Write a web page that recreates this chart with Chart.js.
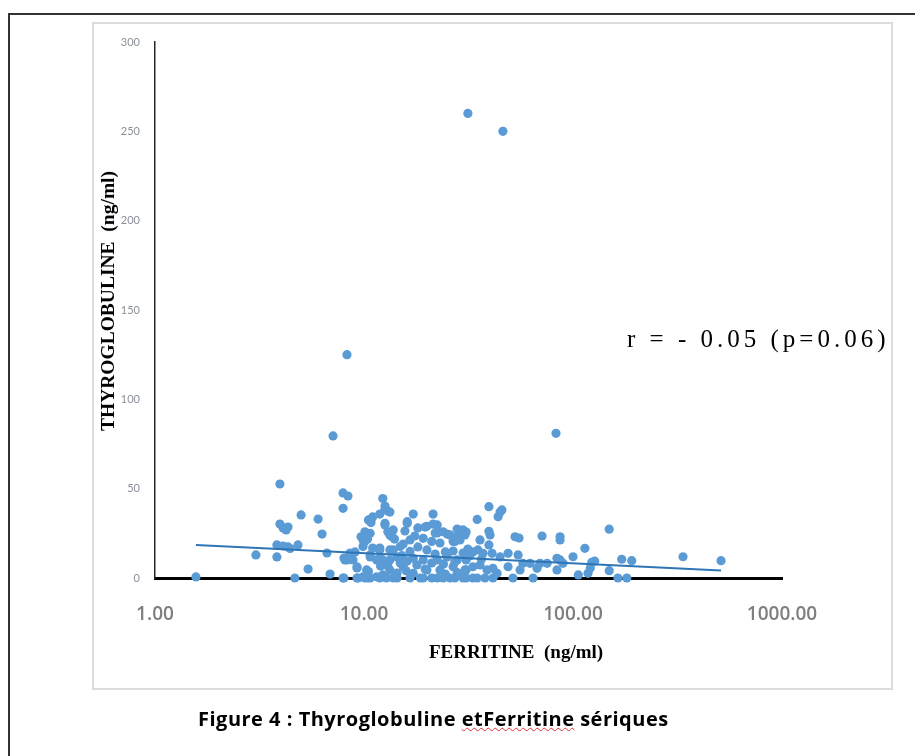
<!DOCTYPE html>
<html>
<head>
<meta charset="utf-8">
<script src="https://cdn.jsdelivr.net/npm/chart.js@4"></script>
<style>
body { margin:0; background:#fff; }
#page { position:relative; width:915px; height:756px; overflow:hidden; }
#frame { position:absolute; left:8px; top:13px; width:920px; height:760px; border-top:2px solid #333; border-left:2px solid #333; }
#box { position:absolute; left:92px; top:22px; width:797px; height:664px; border:2px solid #dcdcdc; }
#chart { position:absolute; left:0; top:0; }
.t { position:absolute; white-space:nowrap; color:#000; }
#ytitle { left:108px; top:301px; font:bold 19.5px "Liberation Serif"; transform:translate(-50%,-50%) rotate(-90deg); }
#xtitle { left:516px; top:652px; font:bold 19px "Liberation Serif"; transform:translate(-50%,-50%); }
#note { left:627px; top:339px; font:25px "Liberation Serif"; letter-spacing:4px; transform:translateY(-50%); }
#caption { left:198px; top:718px; font:bold 20px "Open Sans"; letter-spacing:0.5px; transform:translateY(-50%); }
#caption span { text-decoration:underline wavy #e03030; text-decoration-thickness:1px; }
</style>
</head>
<body>
<div id="page">
<div id="frame"></div>
<div id="box"></div>
<canvas id="chart" width="915" height="756"></canvas>
<div class="t" id="ytitle">THYROGLOBULINE&nbsp; (ng/ml)</div>
<div class="t" id="xtitle">FERRITINE&nbsp; (ng/ml)</div>
<div class="t" id="note">r = - 0.05 (p=0.06)</div>
<div class="t" id="caption">Figure 4 : Thyroglobuline <span>etFerritine</span> sériques</div>
</div>
<script>
// ============================
// DONNEES
// ============================

// ferritine (ng/ml) - axe X log
const ferritine = [
31.4, 46.2, 8.29, 7.11, 82.9, 1.57, 3.96, 7.94, 8.38, 7.94,
12.3, 12.6, 13.0, 13.3, 5.0, 6.03, 3.96, 4.10, 4.33, 4.24,
6.30, 3.83, 4.10, 4.33, 4.83, 3.04, 3.83, 4.43, 6.65, 4.67,
5.40, 6.88, 7.94, 9.26, 10.5, 9.89, 9.26, 10.7, 11.9, 12.3,
13.8, 14.4, 8.57, 8.11, 8.86, 9.89, 10.3, 10.7, 11.0, 11.9,
12.3, 13.8, 13.3, 14.4, 10.7, 11.5, 10.5, 9.68, 10.1, 9.89,
8.02, 8.57, 9.06, 8.29, 8.02, 9.26, 9.36, 10.1, 12.6, 11.0,
11.9, 10.8, 17.2, 21.4, 16.1, 12.6, 13.8, 13.3, 10.1, 10.4,
18.1, 20.0, 22.4, 23.9, 21.9, 19.2, 21.1, 23.1, 25.8, 28.2,
28.8, 26.7, 11.9, 13.3, 14.9, 16.6, 15.2, 11.9, 10.7, 10.3,
11.5, 13.3, 15.4, 17.2, 20.0, 23.1, 26.7, 28.8, 30.8, 10.4,
12.8, 14.4, 16.6, 19.2, 22.4, 25.8, 29.8, 17.2, 19.2, 22.4,
25.0, 27.9, 39.6, 44.8, 45.7, 43.8, 34.8, 39.6, 40.1, 39.6,
35.9, 29.8, 30.4, 52.8, 55.2, 71.1, 86.7, 86.7, 33.2, 35.1,
37.1, 41.0, 44.8, 48.9, 54.6, 62.3, 69.5, 75.2, 83.8, 89.6,
30.8, 30.4, 33.2, 35.9, 38.8, 41.4, 43.3, 48.9, 55.8, 57.6,
67.3, 83.8, 30.8, 34.8, 37.9, 41.4, 51.6, 64.4, 149, 114,
100, 86.7, 123, 127, 121, 118, 106, 171, 191, 149,
164, 181, 336, 511, 27.9, 30.8, 27.9, 25.0, 27.2, 16.1,
19.6, 21.4, 22.4, 12.6, 13.0, 13.6, 15.4, 16.6, 18.1, 20.0,
21.9, 24.5, 26.7, 17.9, 19.6, 21.1, 24.0, 27.2, 14.9, 13.0,
16.1, 29.8, 31.4, 32.0, 36.5, 15.9, 24.5, 27.9, 18.6, 21.1,
23.9, 27.2, 33.2, 12.0, 14.0, 15.7, 17.5
];

// thyroglobuline (ng/ml) - axe Y
const thyroglobuline = [
260, 250, 125, 79.5, 81, 0.6, 52.6, 47.6, 45.9, 39,
44.5, 40.3, 37.5, 36.9, 35.3, 33.0, 30.2, 28.0, 28.5, 26.9,
24.6, 18.5, 17.9, 17.4, 18.5, 12.9, 11.8, 16.5, 14.0, 0,
5.0, 2.2, 0, 5.6, 3.6, 0.6, 0, 0, 0, 1.7,
0, 2.8, 14.0, 10.1, 10.1, 21.3, 23.1, 25.0, 16.8, 15.7,
10.1, 15.7, 10.1, 11.8, 12.9, 10.1, 32.5, 23.1, 20.4, 17.6,
11.2, 12.3, 14.6, 10.1, 0, 6.2, 0, 0, 38.5, 34.2,
35.8, 31.0, 35.8, 35.8, 31.5, 30.6, 26.9, 24.1, 25.9, 21.8,
28.0, 28.9, 29.7, 25.9, 25.2, 22.2, 20.5, 19.6, 24.1, 26.9,
21.3, 20.5, 16.8, 15.7, 17.6, 14.9, 12.5, 11.0, 11.8, 4.5,
0.7, 4.5, 6.3, 2.6, 4.5, 4.5, 6.3, 1.7, 4.5, 0,
0, 0, 0, 0, 0, 0, 0, 11.0, 10.1, 10.1,
11.8, 10.1, 39.9, 37.0, 38.1, 34.3, 32.8, 26.1, 24.1, 18.5,
21.3, 26.9, 24.1, 23.1, 22.4, 23.5, 23.1, 21.3, 14.6, 15.7,
13.8, 13.8, 11.8, 13.8, 12.9, 8.2, 8.2, 8.2, 11.0, 8.2,
10.1, 4.5, 6.3, 7.3, 4.5, 5.4, 2.6, 6.3, 4.5, 8.2,
5.4, 4.5, 0, 0, 0, 0, 0, 0, 27.3, 16.6,
11.9, 10.1, 8.8, 9.4, 5.6, 2.6, 1.7, 10.5, 9.7, 4.1,
0, 0, 11.9, 9.7, 27.4, 25.7, 23.0, 24.6, 20.4, 30.7,
28.5, 30.2, 25.2, 29.7, 25.9, 23.1, 19.0, 21.3, 17.4, 15.7,
13.4, 14.6, 15.1, 7.3, 5.0, 8.4, 7.9, 9.0, 8.4, 6.7,
9.5, 14.0, 16.2, 12.3, 10.6, 4.0, 2.2, 3.0, 0, 0,
0, 0, 0, 6.7, 21.8, 26.3, 23.5
];

// courbe de tendance (extrémités)
const trendX = [1.57, 511];
const trendY = [18.5, 4.2];

// graduations
const xTicks = [1, 10, 100, 1000];
const yTicks = [0, 50, 100, 150, 200, 250, 300];


// ============================
// GRAPHIQUE
// ============================

const points = ferritine.map((v, i) => ({x: v, y: thyroglobuline[i]}));
const tendance = trendX.map((v, i) => ({x: v, y: trendY[i]}));

new Chart(document.getElementById('chart'), {

type: 'scatter',

data: {
datasets: [{
label: 'Tendance',
data: tendance,
showLine: true,
borderColor: '#2e75b6',
borderWidth: 2,
pointRadius: 0,
clip: false,
order: 0
}, {
label: 'Thyroglobuline',
data: points,
backgroundColor: '#5b9bd5',
borderColor: '#5b9bd5',
borderWidth: 0,
pointRadius: 4.6,
clip: false,
order: 1
}]
},

options: {
responsive: false,
animation: false,
layout: {
padding: {left: 100, top: 42, right: 133, bottom: 128}
},
plugins: {
legend: {display: false},
tooltip: {enabled: false}
},
scales: {
x: {
type: 'logarithmic',
min: 1,
max: 1000,
afterBuildTicks: (axis) => { axis.ticks = xTicks.map(v => ({value: v})); },
afterFit: (axis) => { axis.height = 50; },
grid: {display: true, drawOnChartArea: false, drawTicks: false, color: 'rgba(0,0,0,0)'},
border: {display: true, color: '#000', width: 3},
ticks: {
padding: 25,
maxRotation: 0,
color: '#7f7f7f',
font: {family: 'Open Sans', size: 19, weight: '600'},
callback: (v) => Number(v).toFixed(2)
}
},
y: {
min: 0,
max: 300,
afterBuildTicks: (axis) => { axis.ticks = yTicks.map(v => ({value: v})); },
afterFit: (axis) => { axis.width = 55; },
grid: {display: true, drawOnChartArea: false, drawTicks: false, color: 'rgba(0,0,0,0)'},
border: {display: true, color: '#262626', width: 1.5},
ticks: {
padding: 15,
color: '#8a8f99',
font: {family: 'Lato', size: 11}
}
}
}
}

});
</script>
</body>
</html>
